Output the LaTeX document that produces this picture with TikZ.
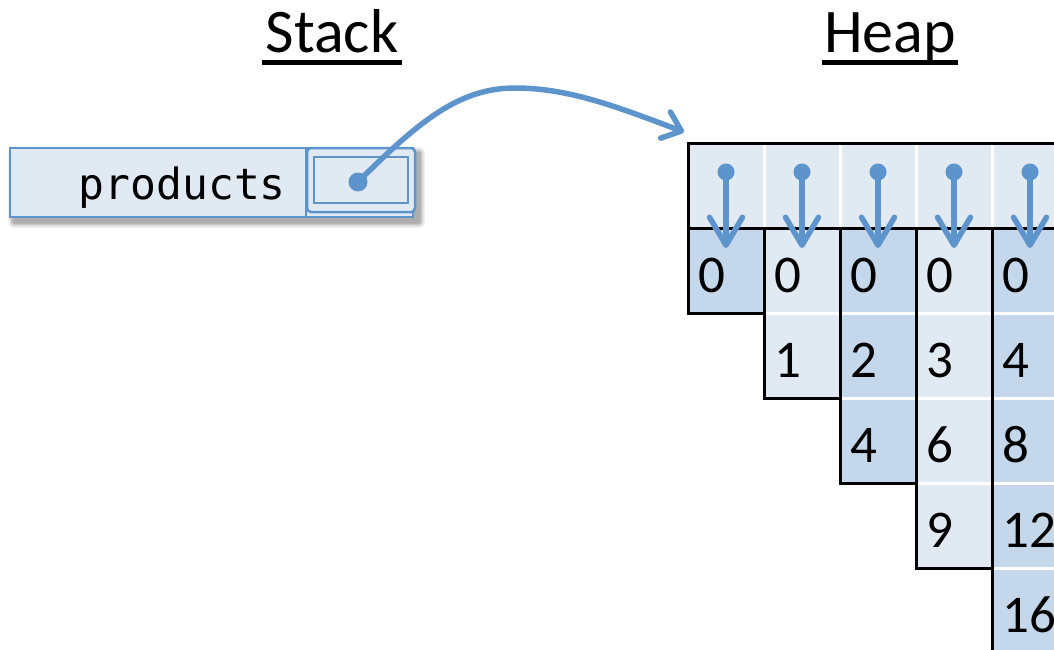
\documentclass[tikz,border=0pt]{standalone}
\usepackage{fontspec}
\setmainfont{Carlito}
\newfontfamily\codefont{DejaVu Sans Mono}
\usetikzlibrary{arrows.meta,calc}

\definecolor{ptrblue}{RGB}{94,148,204}
\definecolor{cellpale}{RGB}{225,233,243}
\definecolor{celldeep}{RGB}{197,216,235}

\tikzset{
  title/.style={font=\fontsize{62}{62}\selectfont, inner sep=0pt, anchor=base},
  uline/.style={line width=5pt},
  grid/.style={line width=3pt, black},
  sep/.style={line width=3pt, white},
  num/.style={font=\fontsize{53}{53}\selectfont, inner sep=0pt, anchor=base west},
  ptr/.style={ptrblue, line width=5.5pt, line cap=round,
    -{Straight Barb[length=17pt,width=28pt,line width=5.5pt,round]}},
  drop/.style={ptrblue, line width=5.5pt, line cap=round,
    -{Straight Barb[length=28pt,width=33pt,line width=5.5pt,round]}},
  knob/.style={circle, fill=ptrblue, inner sep=0pt, minimum size=#1}
}

\begin{document}
\begin{tikzpicture}[x=1pt, y=-1pt]
\useasboundingbox (0,0) rectangle (1054,650);

% headings
\node[title] (stk) at (332,53) {Stack};
\node[title] (hp) at (890,53) {Heap};
\draw[uline] ([yshift=-10pt]stk.base west) ++(-4,0) -- ([yshift=-10pt,xshift=3pt]stk.base east);
\draw[uline] ([yshift=-10pt]hp.base west) ++(-2,0) -- ([yshift=-10pt,xshift=2pt]hp.base east);

% soft shadow under the stack variable
\foreach \s/\o in {6/0.06,4.5/0.08,3/0.10,1.5/0.12} {
  \fill[black, opacity=\o, rounded corners=\s pt] (10+4-\s,148+5-\s) rectangle (415+4+\s,217+5+\s);
}

% the stack variable
\draw[ptrblue, line width=2.5pt, fill=cellpale] (10,148) rectangle (413,217);
\node[font=\codefont\fontsize{43}{43}\selectfont, inner sep=0pt, anchor=base east] (var) at (286,199) {products};
\draw[ptrblue, line width=2pt] (306,148) -- (306,217);
\draw[ptrblue, line width=2.5pt, rounded corners=4pt, fill=cellpale] (307,148) rectangle (415,212);
\draw[ptrblue, line width=2.5pt] (314,157) rectangle (408,203);
\node[knob=19pt] (src) at (358,182) {};

% the heap: row of references
\fill[cellpale] (688,143) rectangle (1054,228);
\foreach \i in {1,...,4} \draw[sep] (688+76*\i,143) -- (688+76*\i,228);

% the heap: triangular rows of numbers
\foreach \c/\col/\vals in {0/celldeep/{0},1/cellpale/{0,1},2/celldeep/{0,2,4},3/cellpale/{0,3,6,9},4/celldeep/{0,4,8,12,16}} {
  \pgfmathsetmacro{\xl}{688+76*\c}
  \pgfmathsetmacro{\yb}{313+85*\c}
  \fill[\col] (\xl,228) rectangle (\xl+76,\yb);
  \foreach \v [count=\r from 0] in \vals {
    \node[num] (n\c\r) at (\xl+10,292+85*\r) {\v};
  }
}
% white separators between cells of one column
\foreach \r in {1,...,4} \draw[sep] (688+76*\r,228+85*\r) -- (1054,228+85*\r);

% black outlines
\draw[grid] (1054,143) -- (688,143) -- (688,313) -- (764,313);
\draw[grid] (688,228) -- (1054,228);
\draw[grid] (764,228) -- (764,398) -- (840,398);
\draw[grid] (840,228) -- (840,483) -- (916,483);
\draw[grid] (916,228) -- (916,568) -- (992,568);
\draw[grid] (992,228) -- (992,652);

% references into each column
\foreach \c in {0,...,4} {
  \node[knob=17pt] (k\c) at (726+76*\c,172) {};
  \coordinate (t\c) at (726+76*\c,248);
  \draw[drop] (k\c.center) -- (t\c);
}

% pointer from the variable to the heap
\coordinate (dst) at (684,132);
\draw[ptr] (src.center) .. controls (420,120) and (460,88) .. (515,88)
  .. controls (570,88) and (620,108) .. (dst);
\end{tikzpicture}
\end{document}
